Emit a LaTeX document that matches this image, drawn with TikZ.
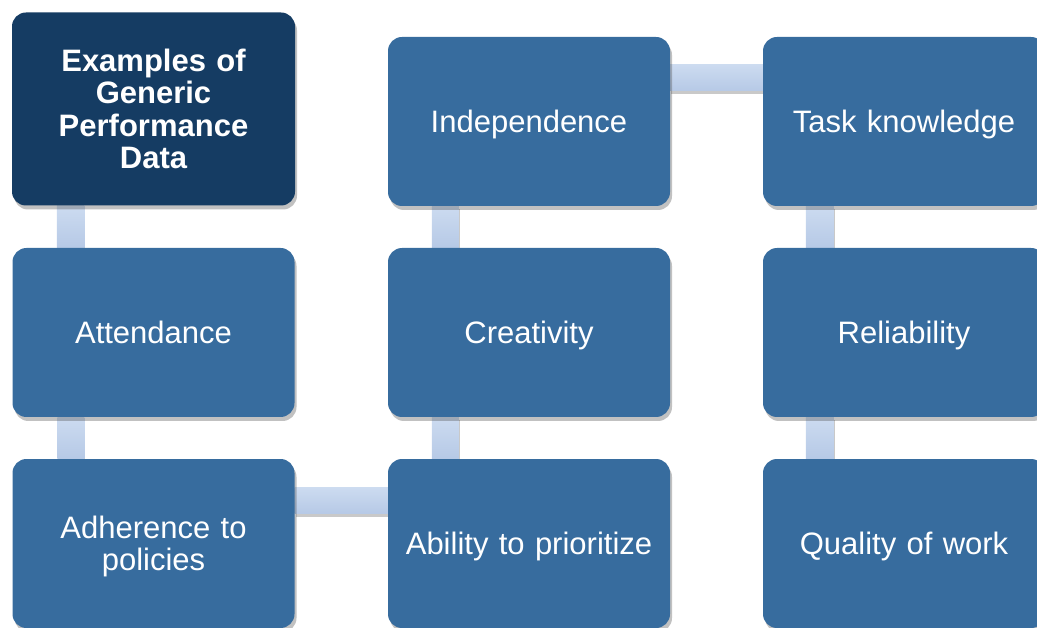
\documentclass[tikz,border=0pt]{standalone}
\usepackage{fontspec}
\setmainfont{Liberation Sans}
\usetikzlibrary{shadows}
\definecolor{darkbox}{HTML}{153C63}
\definecolor{midbox}{HTML}{376C9E}
\definecolor{bartop}{HTML}{CCDBF0}
\definecolor{barbot}{HTML}{B6C9E6}
\pgfdeclarelayer{bg}
\pgfsetlayers{bg,main}
\begin{document}
\begin{tikzpicture}[x=1pt,y=-1pt,
  box/.style={rectangle, rounded corners=14pt, fill=midbox, text=white,
    minimum width=282pt, minimum height=169pt, inner sep=0pt,
    align=center, text width=272pt,
    font=\fontsize{31}{32}\selectfont,
    drop shadow={shadow xshift=2pt, shadow yshift=-4pt, opacity=0.35, fill=black!70}},
  oneline/.style={text height=21.5pt, text depth=0pt},
  titlebox/.style={box, fill=darkbox, minimum width=283pt, minimum height=193pt,
    font=\fontsize{31}{32.3}\selectfont\bfseries},
  bar/.style={top color=bartop, bottom color=barbot,
    drop shadow={shadow xshift=1pt, shadow yshift=-3pt, opacity=0.3, fill=black!70}}]
\useasboundingbox (0,0) rectangle (1037,628);
\clip (0,0) rectangle (1037,628);
\node[titlebox] (ex) at (153.5,109) {Examples of\\Generic\\Performance\\Data};
\node[box, oneline] (att) at (153.5,332.5) {Attendance};
\node[box] (adh) at (153.5,543.5) {Adherence to\\\raisebox{0pt}[\height][0pt]{policies}};
\node[box, oneline] (ind) at (529,121.5) {Independence};
\node[box, oneline] (cre) at (529,332.5) {Creativity};
\node[box, oneline] (abi) at (529,543.5) {Ability to prioritize};
\node[box, oneline] (task) at (904,121.5) {Task knowledge};
\node[box, oneline] (rel) at (904,332.5) {Reliability};
\node[box, oneline] (qual) at (904,543.5) {Quality of work};
\begin{pgfonlayer}{bg}
  \path[bar] ([xshift=45pt]ex.south west) rectangle ([xshift=72pt]att.north west);
  \path[bar] ([xshift=45pt]att.south west) rectangle ([xshift=72pt]adh.north west);
  \path[bar] ([yshift=-29pt]adh.north east) rectangle ([yshift=-55pt]abi.north west);
  \path[bar] ([xshift=44pt]abi.north west) rectangle ([xshift=71pt]cre.south west);
  \path[bar] ([xshift=44pt]cre.north west) rectangle ([xshift=71pt]ind.south west);
  \path[bar] ([yshift=-28pt]ind.north east) rectangle ([yshift=-54pt]task.north west);
  \path[bar] ([xshift=43pt]task.south west) rectangle ([xshift=71pt]rel.north west);
  \path[bar] ([xshift=43pt]rel.south west) rectangle ([xshift=71pt]qual.north west);
\end{pgfonlayer}
\end{tikzpicture}
\end{document}
